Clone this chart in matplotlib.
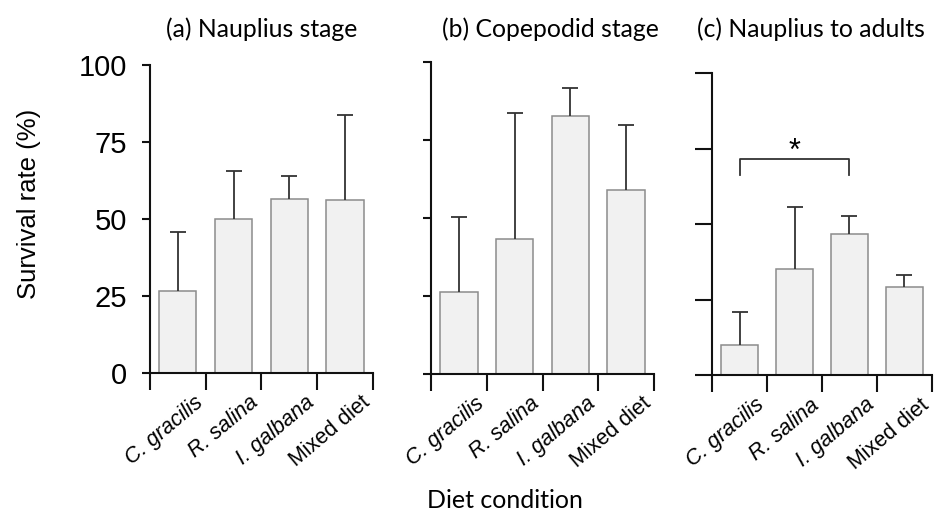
import matplotlib
matplotlib.use("Agg")
import matplotlib.pyplot as plt
import numpy as np

W, H = 941, 525

categories = ["C. gracilis", "R. salina", "I. galbana", "Mixed diet"]
italic = [True, True, True, False]

titles = ["(a) Nauplius stage", "(b) Copepodid stage", "(c) Nauplius to adults"]
means_a = [26.7, 50.1, 56.6, 56.1]
upper_a = [45.7, 65.6, 63.8, 83.6]
means_b = [26.1, 43.4, 82.7, 58.9]
upper_b = [50.4, 83.6, 91.8, 80.0]
means_c = [9.8, 35.2, 46.6, 29.2]
upper_c = [20.9, 55.8, 52.7, 33.2]
yticks = [0, 25, 50, 75, 100]
ytick_labels = ["0", "25", "50", "75", "100"]

panels = [
    (means_a, upper_a, (150.0, 372.7, 65.0, 372.7), True, 8),
    (means_b, upper_b, (431.0, 654.0, 62.3, 373.7), False, 8),
    (means_c, upper_c, (712.3, 931.7, 73.3, 375.0), False, 17),
]

fig = plt.figure(figsize=(W / 100, H / 100), dpi=100)
tick_font = "Liberation Sans"

axes = []
for i, (m, u, (x0, x1, ytop, ybot), show_y, ytl) in enumerate(panels):
    ax = fig.add_axes([x0 / W, 1 - ybot / H, (x1 - x0) / W, (ybot - ytop) / H])
    axes.append(ax)
    x = np.arange(len(categories))
    ax.bar(x, m, width=0.67, color="#f1f1f1", edgecolor="#8c8c8c", linewidth=1.1, zorder=2)
    m_arr = np.array(m)
    u_arr = np.array(u)
    eb = ax.errorbar(x, m_arr, yerr=[np.zeros_like(m_arr), u_arr - m_arr], fmt="none",
                     ecolor="#333333", elinewidth=1.3, capsize=5.5, capthick=1.3, zorder=3)
    caps = eb[1]
    if len(caps) >= 2:
        caps[0].set_visible(False)
    ax.set_xlim(-0.5, 3.5)
    ax.set_ylim(0, 100)
    for s in ["top", "right"]:
        ax.spines[s].set_visible(False)
    for s in ["left", "bottom"]:
        ax.spines[s].set_linewidth(1.5)
        ax.spines[s].set_color("#111111")
    ax.set_yticks(yticks)
    if show_y:
        ax.set_yticklabels(ytick_labels, fontsize=21, family=tick_font)
    else:
        ax.set_yticklabels([])
    ax.tick_params(axis="y", length=ytl * 0.72, width=1.5, color="#111111", pad=11)
    ax.set_xticks(np.arange(-0.5, 4.0, 1.0))
    ax.set_xticklabels([])
    ax.tick_params(axis="x", which="major", length=12.2, width=1.5, color="#111111")
    ax.set_xticks(x + 0.28, minor=True)
    ax.set_xticklabels(categories, minor=True)
    ax.tick_params(axis="x", which="minor", length=0, pad=14)
    for lab, it in zip(ax.get_xticklabels(minor=True), italic):
        lab.set_rotation(40)
        lab.set_ha("right")
        lab.set_va("top")
        lab.set_rotation_mode("anchor")
        lab.set_fontsize(15.5)
        lab.set_family(tick_font)
        lab.set_style("italic" if it else "normal")

# significance bracket in panel (c)
axc = axes[2]
bracket_y, bracket_drop = 71.6, 66.3
axc.plot([0, 0, 2, 2], [bracket_drop, bracket_y, bracket_y, bracket_drop],
         color="#333333", lw=1.3, solid_joinstyle="round", zorder=4)
axc.text(1, 74.0, "*", ha="center", va="center", fontsize=22, family=tick_font)

title_font = "Lato"
title_x = [262, 550, 811]
for t, tx in zip(titles, title_x):
    fig.text(tx / W, 1 - 29 / H, t, ha="center", va="center", fontsize=17.8, family=title_font)

fig.text(29 / W, 1 - 204 / H, "Survival rate (%)", rotation=90, ha="center", va="center",
         fontsize=18.5, family=tick_font)
fig.text(505 / W, 1 - 501 / H, "Diet condition", ha="center", va="center",
         fontsize=18, family=title_font)

fig.savefig("out.png", dpi=100)
